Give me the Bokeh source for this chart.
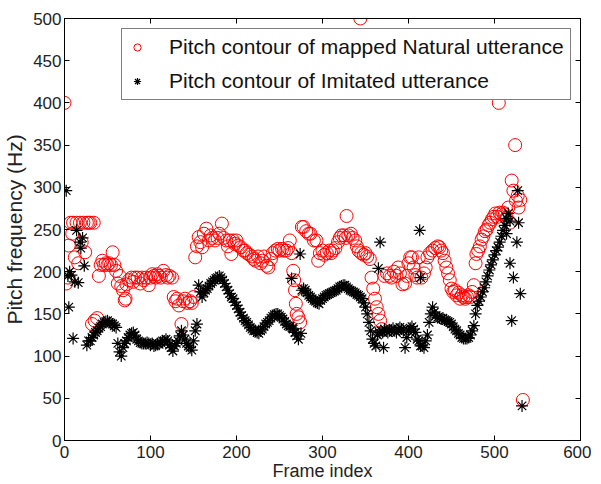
from bokeh.plotting import figure
from bokeh.models import Range1d, LinearAxis, Legend, LegendItem, ColumnDataSource, FixedTicker
from bokeh.embed import file_html
from bokeh.resources import INLINE

# ---- data (frame index, pitch Hz) ----
natural_points = [
    (0,400),(2,186),(4,193),(5,231),(7,258),(9,245),(10,258),(12,217),(14,258),(16,210),(18,258),(20,235),(22,258),(24,223),(26,258),(28,258),(30,258),(32,138),(34,258),(35,142),(38,145),
    (40,195),(42,208),(44,213),(46,208),(48,210),(50,208),(52,210),(54,208),(56,223),(58,208),(60,201),(62,186),(64,195),(66,183),(68,178),(70,166),(71,168),
    (72,185),(75,190),(78,193),(80,188),(82,193),(85,193),(88,186),(90,193),(92,190),(95,193),(98,184),(100,193),
    (102,197),(104,195),(106,193),(108,197),(110,195),(112,193),(115,201),(118,196),(120,193),(122,195),(125,193),(127,170),(129,165),(131,168),(133,160),(136,138),(138,165),(140,168),(143,163),(146,165),(148,163),(150,170),
    (152,217),(154,230),(156,241),(158,235),(160,229),(162,245),(165,251),(168,237),(170,243),(172,240),(175,237),(178,240),(180,245),(183,257),(185,240),(188,237),(190,230),(192,237),(194,221),(196,237),(198,233),(200,237),(202,231),(205,229),(208,225),
    (210,225),(212,222),(215,220),(218,218),(220,215),(222,213),(225,218),(228,210),(230,213),(232,218),(235,207),(237,205),(240,215),(242,222),(245,225),(248,227),(250,225),(253,227),(255,225),(258,225),(260,228),(262,237),(264,222),
    (266,201),(267,190),(268,178),(269,162),(270,150),(272,146),(274,140),
    (276,253),(278,253),(281,248),(284,245),(286,245),(290,237),(293,237),(295,213),(297,222),(300,225),(302,220),(305,222),(308,225),(310,222),
    (312,225),(315,228),(318,235),(320,240),(322,243),(325,243),(327,240),(328,266),(330,243),(333,245),(335,240),(338,237),(340,230),(342,225),(344,500),(345,222),(348,220),(350,222),(352,218),(355,215),
    (357,193),(359,180),(361,168),(363,158),(365,150),(367,142),(369,132),
    (372,195),(375,198),(378,195),(380,193),(383,200),(386,195),(388,205),(390,198),(393,185),(396,186),(398,195),(400,210),(402,217),(404,217),(406,205),(408,196),(410,193),
    (412,217),(415,193),(418,198),(420,205),(422,217),(425,222),(428,225),(431,228),(434,230),(436,229),(438,225),(440,222),(442,213),(444,205),(446,198),(448,190),(450,180),(452,176),(454,178),(456,172),(458,175),(460,168),(462,172),(464,170),(466,168),(468,170),(470,172),(472,170),(474,176),(476,184),(478,210),
    (479,221),(481,225),(483,230),(485,238),(487,242),(489,248),(491,250),(493,255),(495,258),(497,262),(499,265),(501,269),(503,265),(505,400),(506,270),(508,268),(510,270),(512,268),(514,264),(516,276),(518,258),(520,308),(522,296),(524,350),(525,284),(527,290),(528,276),(530,285),(533,48),
]

imitated_points = [
    (2,296),(4,195),(5,158),(6,200),(8,196),(10,121),(12,188),(14,249),(16,187),(18,235),(19,228),(21,240),(23,207),(26,113),(28,118),(30,118),
    (32,122),(34,125),(36,128),(38,130),(40,133),(42,135),(44,138),(46,140),(48,141),(50,142),(52,140),(54,139),(56,138),(58,136),(60,134),(62,115),(64,105),(66,100),(68,110),(70,115),(72,118),(74,122),(76,125),(78,127),(80,128),(82,125),(84,120),(86,118),(88,116),(90,115),(92,115),(94,115),(96,116),(98,115),
    (100,113),(102,115),(104,112),(106,113),(108,115),(110,114),(112,116),(114,118),(116,118),(118,120),(120,118),(122,113),(124,110),(126,106),(128,112),(130,115),(132,118),(134,124),(136,130),(138,125),(140,120),(142,115),(144,112),(146,110),(148,107),(150,118),(152,130),(154,138),
    (156,184),(158,176),(160,170),(162,175),(164,178),(166,180),(168,183),(170,186),(172,188),(174,190),(176,192),(178,193),(180,195),(182,193),(184,190),(186,186),(188,182),(190,178),(192,174),(194,170),(196,168),(198,164),(200,160),(202,156),(204,152),(206,148),
    (208,145),(210,142),(212,140),(214,137),(216,134),(218,132),(220,130),(222,130),(224,128),(226,127),(228,130),(230,132),(232,135),(234,138),(236,140),(238,142),(240,145),(242,147),(244,149),(246,150),(248,150),(250,148),(252,146),(254,144),(256,141),(258,138),(260,136),(262,135),(264,192),(265,133),(266,132),(268,128),(270,124),(272,120),(274,221),(275,127),
    (276,178),(278,180),(280,178),(282,175),(284,172),(286,170),(288,168),(290,166),(292,165),(294,163),(296,162),(298,166),(300,168),(302,170),(304,172),(306,173),(308,174),(310,175),(312,176),(314,177),(316,178),(318,180),(320,182),(322,183),(324,184),(326,184),(328,182),(330,180),(332,178),(334,177),(336,176),(338,175),(340,173),(342,172),(344,170),(346,168),(348,163),(350,158),(352,150),(354,140),(356,130),(358,120),(360,115),(362,112),
    (364,125),(365,204),(366,128),(367,235),(368,130),(370,128),(371,110),(372,132),(374,130),(376,128),(378,130),(380,131),(382,133),(384,130),(386,128),(388,132),(390,134),(392,132),(394,130),(396,110),(398,122),(400,130),(402,133),(404,135),(406,132),(408,128),(410,120),
    (412,118),(413,249),(414,193),(414,112),(416,112),(418,110),(420,118),(422,125),(424,140),(426,150),(428,158),(430,152),(432,148),(434,146),(436,145),(438,144),(440,145),(442,143),(444,142),(446,141),(448,140),(450,138),(452,135),(454,132),(456,130),(458,127),(460,125),(462,122),(464,121),(466,121),(468,121),(470,122),(472,125),(474,130),(476,136),(478,150),
    (480,160),(482,165),(484,170),(486,176),(488,181),(490,188),(492,195),(494,202),(496,208),(498,214),(500,220),(502,225),(504,229),(506,235),(508,242),(510,249),(512,255),(514,245),(514,263),(516,269),(518,260),(518,210),(520,142),(522,193),(526,235),(527,296),(528,258),(530,174),(532,41),
]

x_ticks = [0, 100, 200, 300, 400, 500, 600]
y_ticks = [0, 50, 100, 150, 200, 250, 300, 350, 400, 450, 500]
label_natural = "Pitch contour of mapped Natural utterance"
label_imitated = "Pitch contour of Imitated utterance"

nat_src = ColumnDataSource(dict(x=[a for a, b in natural_points], y=[b for a, b in natural_points]))
imi_src = ColumnDataSource(dict(x=[a for a, b in imitated_points], y=[b for a, b in imitated_points]))

FONT = "Liberation Sans"

p = figure(frame_width=516, frame_height=422,
           x_range=Range1d(0, 600), y_range=Range1d(0, 500),
           output_backend="svg", toolbar_location=None,
           min_border_left=58, min_border_right=11, min_border_top=18, min_border_bottom=36)
p.xgrid.visible = False
p.ygrid.visible = False
p.outline_line_color = "black"
p.outline_line_width = 1

r_nat = p.scatter("x", "y", source=nat_src, marker="circle", size=13,
                  fill_color=None, line_color="#ff0000", line_width=1)
r_imi = p.scatter("x", "y", source=imi_src, marker="asterisk", size=12,
                  line_color="black", line_width=1.2)

def style_axis(ax, ticks, show_labels=True):
    ax.ticker = FixedTicker(ticks=ticks)
    ax.major_tick_in = 5
    ax.major_tick_out = 0
    ax.minor_tick_line_color = None
    ax.axis_line_color = "black"
    ax.major_tick_line_color = "black"
    ax.major_label_text_font = FONT
    ax.major_label_text_font_size = "17px"
    ax.major_label_text_color = "#222222"
    ax.major_label_standoff = 3
    ax.axis_label_text_font = FONT
    ax.axis_label_text_font_size = "18px"
    ax.axis_label_text_font_style = "normal"
    ax.axis_label_text_color = "#222222"
    ax.axis_label_standoff = 2
    if not show_labels:
        ax.major_label_text_color = None
        ax.major_label_text_font_size = "1px"
        ax.major_label_standoff = 0

style_axis(p.xaxis[0], x_ticks)
style_axis(p.yaxis[0], y_ticks)
p.xaxis[0].axis_label = "Frame index"
p.xaxis[0].major_label_standoff = 5
p.xaxis[0].axis_label_standoff = 0
p.yaxis[0].axis_label = "Pitch frequency (Hz)"
p.yaxis[0].axis_label_text_font_size = "21px"
p.yaxis[0].axis_label_standoff = 4

top_ax = LinearAxis()
style_axis(top_ax, x_ticks, show_labels=False)
right_ax = LinearAxis()
style_axis(right_ax, y_ticks, show_labels=False)
p.add_layout(top_ax, "above")
p.add_layout(right_ax, "right")

legend = Legend(items=[LegendItem(label=label_natural, renderers=[r_nat]),
                       LegendItem(label=label_imitated, renderers=[r_imi])],
                location=(57, 340))
legend.label_text_font = FONT
legend.label_text_font_size = "21px"
legend.label_text_color = "#111111"
legend.border_line_color = "black"
legend.border_line_width = 1
legend.background_fill_color = "white"
legend.background_fill_alpha = 1
legend.padding = 6
legend.glyph_width = 18
legend.glyph_height = 22
legend.label_height = 22
legend.label_standoff = 23
legend.spacing = 10
legend.margin = 0
p.add_layout(legend, "center")

open("out.html", "w").write(file_html(p, INLINE))
